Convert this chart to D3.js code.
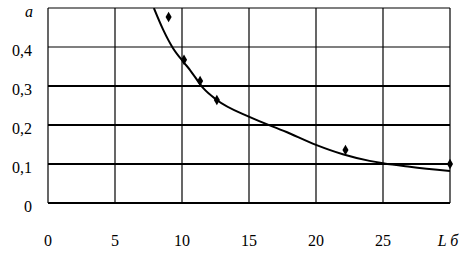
<!DOCTYPE html>
<html>
<head>
<meta charset="utf-8">
<script src="https://cdn.jsdelivr.net/npm/d3@7"></script>
<style>
  body { margin: 0; background: #fff; }
  svg { display: block; }
  svg text { font-family: "Liberation Serif"; font-size: 16px; }
</style>
</head>
<body>
<div id="chart"></div>
<script>
// measured points
const pointL = [9.0, 10.15, 11.35, 12.6, 22.2, 30.0];
const pointA = [0.477, 0.367, 0.313, 0.264, 0.136, 0.100];

// fitted curve
const curveL = [7.9, 8.6, 9.33, 10.15, 10.6, 11.57, 12.6, 15.07, 17.8, 20, 22, 24, 25, 27, 30];
const curveA = [0.5, 0.444, 0.397, 0.36, 0.341, 0.295, 0.264, 0.22, 0.182, 0.149, 0.125, 0.108, 0.102, 0.093, 0.082];

const xTicks = [0, 5, 10, 15, 20, 25];
const yTicks = [0, 0.1, 0.2, 0.3, 0.4];
const yTickLabels = ["0", "0,1", "0,2", "0,3", "0,4"];

function drawChart() {
    const width = 473, height = 257;
    const margin = {left: 48, right: 23, top: 8, bottom: 54};

    const svg = d3.select("#chart")
        .append("svg")
        .attr("width", width)
        .attr("height", height);

    const x = d3.scaleLinear().domain([0, 30]).range([margin.left, width - margin.right]);
    const y = d3.scaleLinear().domain([0, 0.5]).range([height - margin.bottom, margin.top]);

    // vertical grid
    svg.append("g")
        .selectAll("line")
        .data(xTicks.slice(1).concat([30]))
        .join("line")
        .attr("x1", d => x(d)).attr("x2", d => x(d))
        .attr("y1", y(0)).attr("y2", y(0.5))
        .attr("stroke", "#000")
        .attr("stroke-width", 1.2);

    // horizontal grid
    svg.append("g")
        .selectAll("line")
        .data(yTicks.concat([0.5]))
        .join("line")
        .attr("x1", x(0)).attr("x2", x(30))
        .attr("y1", d => y(d)).attr("y2", d => y(d))
        .attr("stroke", "#000")
        .attr("stroke-width", d => (d === 0.4 || d === 0.5) ? 1.2 : 2);

    // left axis line
    svg.append("line")
        .attr("x1", x(0)).attr("x2", x(0))
        .attr("y1", y(0)).attr("y2", y(0.5))
        .attr("stroke", "#000")
        .attr("stroke-width", 1.2);

    // y tick labels
    svg.append("g")
        .selectAll("text")
        .data(yTicks)
        .join("text")
        .attr("x", 32)
        .attr("y", d => y(d) + 9)
        .attr("text-anchor", "end")
        .text((d, i) => yTickLabels[i]);

    svg.append("text")
        .attr("x", 29)
        .attr("y", 17)
        .attr("text-anchor", "middle")
        .style("font-style", "italic")
        .text("a");

    // x tick labels
    svg.append("g")
        .selectAll("text")
        .data(xTicks)
        .join("text")
        .attr("x", d => x(d))
        .attr("y", 246)
        .attr("text-anchor", "middle")
        .text(d => d);

    svg.append("text")
        .attr("x", x(30) - 2)
        .attr("y", 246)
        .attr("text-anchor", "middle")
        .style("font-style", "italic")
        .text("L б");

    // curve, clipped to plot area
    svg.append("clipPath")
        .attr("id", "plot")
        .append("rect")
        .attr("x", x(0)).attr("y", y(0.5))
        .attr("width", x(30) - x(0)).attr("height", y(0) - y(0.5));

    const line = d3.line()
        .x(d => x(d[0]))
        .y(d => y(d[1]))
        .curve(d3.curveMonotoneX);

    svg.append("path")
        .datum(curveL.map((l, i) => [l, curveA[i]]))
        .attr("clip-path", "url(#plot)")
        .attr("fill", "none")
        .attr("stroke", "#000")
        .attr("stroke-width", 2)
        .attr("d", line);

    // points
    svg.append("g")
        .selectAll("path")
        .data(pointL.map((l, i) => [l, pointA[i]]))
        .join("path")
        .attr("transform", d => `translate(${x(d[0])},${y(d[1])})`)
        .attr("d", d3.symbol().type(d3.symbolDiamond).size(32))
        .attr("fill", "#000");
}

drawChart();
</script>
</body>
</html>
